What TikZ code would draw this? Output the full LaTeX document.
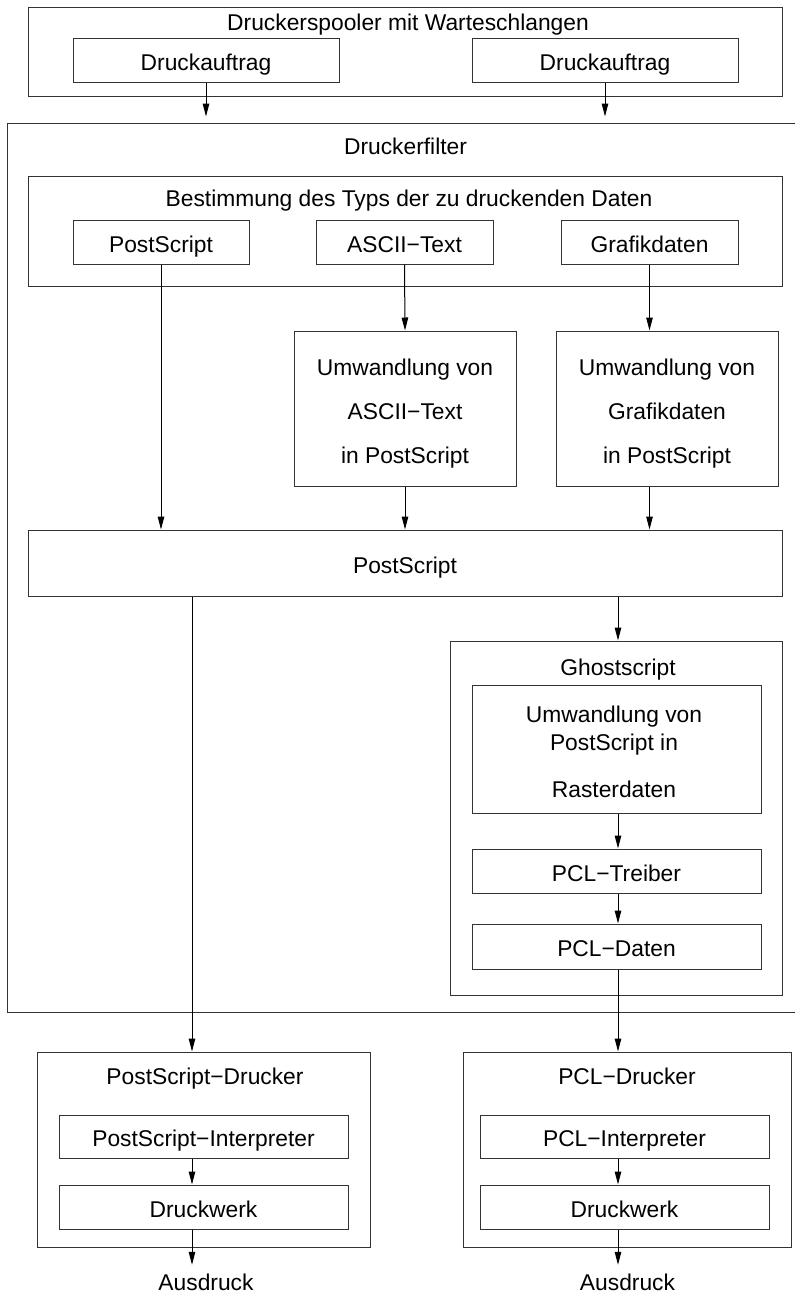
\documentclass[tikz,border=0pt]{standalone}
\usepackage{fontspec}
\setmainfont{Liberation Sans}
\usetikzlibrary{arrows.meta,calc}
\begin{document}
\begin{tikzpicture}[x=1pt,y=-1pt,
  every node/.style={font=\fontsize{22.8}{27}\selectfont, inner sep=0pt},
  wh/.style n args={2}{minimum width=#1pt, minimum height=#2pt},
  cont/.style={draw=black!80, line width=1pt},
  box/.style={draw=black!80, line width=1pt, text height=20pt, text depth=0pt},
  ttl/.style={anchor=base},
  mtext/.style={align=center},
  arr/.style={draw=black, line width=1pt, -{Triangle[length=13pt,width=6.5pt]}}]
\useasboundingbox (0,0) rectangle (795,1294);
\clip (0,0) rectangle (795,1294);
\coordinate (xl) at (192,0);
\coordinate (xr) at (618,0);
% Spooler
\node[cont, wh={754}{89}] (spool) at (405,51.5) {};
\node[ttl] (spooltitle) at (408,30) {Druckerspooler mit Warteschlangen};
\node[box, wh={266}{44}] (auf1) at (206,60) {Druckauftrag};
\node[box, wh={266}{44}] (auf2) at (605,60) {Druckauftrag};
% Filter
\node[cont, wh={808}{889.7}] (filter) at (411,567.85) {};
\node[ttl] (filtertitle) at (405.5,154) {Druckerfilter};
\node[cont, wh={754}{110}] (best) at (405,231) {};
\node[ttl] (besttitle) at (409,206) {Bestimmung des Typs der zu druckenden Daten};
\node[box, wh={176}{44}] (tps) at (161,242) {PostScript};
\node[box, wh={177}{44}] (tascii) at (404.5,242) {ASCII−Text};
\node[box, wh={177}{44}] (tgraf) at (649.5,242) {Grafikdaten};
\node[cont, wh={222}{155}] (uascii) at (405,408.5) {};
\node[mtext, font=\fontsize{22.8}{44}\selectfont] (uasciitext) at (405,413.1) {Umwandlung von\\ASCII−Text\\in PostScript};
\node[cont, wh={222}{155}] (ugraf) at (667,408.5) {};
\node[mtext, font=\fontsize{22.8}{44}\selectfont] (ugraftext) at (667,413.1) {Umwandlung von\\Grafikdaten\\in PostScript};
\node[box, wh={754}{66}] (psbig) at (405,563) {PostScript};
% Ghostscript
\node[cont, wh={332}{354}] (ghost) at (616,818) {};
\node[ttl] (ghosttitle) at (618,675) {Ghostscript};
\node[cont, wh={289}{128}] (uraster) at (616.5,749) {};
\node[mtext, font=\fontsize{22.8}{28}\selectfont] (urastertext) at (614,751.4) {Umwandlung von\\PostScript in\\[19pt]Rasterdaten};
\node[box, wh={289}{44}] (pcltr) at (616.5,871) {PCL−Treiber};
\node[box, wh={289}{45}] (pcldat) at (616.5,946.5) {PCL−Daten};
% Printers
\node[cont, wh={333}{195}] (psdr) at (203.5,1149.5) {};
\node[ttl] (psdrtitle) at (205,1084) {PostScript−Drucker};
\node[box, wh={289}{43}] (psint) at (203.5,1136.5) {PostScript−Interpreter};
\node[box, wh={289}{44}] (psdw) at (203.5,1207) {Druckwerk};
\node[ttl] (ausl) at (206,1290.5) {Ausdruck};
\node[cont, wh={328}{195}] (pcldr) at (627,1149.5) {};
\node[ttl] (pcldrtitle) at (627,1084) {PCL−Drucker};
\node[box, wh={289}{43}] (pclint) at (624.5,1136.5) {PCL−Interpreter};
\node[box, wh={289}{44}] (pcldw) at (624.5,1207) {Druckwerk};
\node[ttl] (ausr) at (627.5,1290.5) {Ausdruck};
% Arrows
\draw[arr, shorten >=6pt] (auf1.south) -- (auf1.south |- filter.north);
\draw[arr, shorten >=6pt] (auf2.south) -- (auf2.south |- filter.north);
\draw[arr] (tps.south) -- (tps.south |- psbig.north);
\draw[arr] (tascii.south) -- (uascii.north);
\draw[arr] (tgraf.south) -- (tgraf.south |- ugraf.north);
\draw[arr] (uascii.south) -- (uascii.south |- psbig.north);
\draw[arr] (ugraf.south -| tgraf.south) -- (tgraf.south |- psbig.north);
\draw[arr] (psbig.south -| xl) -- (xl |- psdr.north);
\draw[arr] (psbig.south -| xr) -- (xr |- ghost.north);
\draw[arr] (uraster.south -| xr) -- (xr |- pcltr.north);
\draw[arr] (pcltr.south -| xr) -- (xr |- pcldat.north);
\draw[arr] (pcldat.south -| xr) -- (xr |- pcldr.north);
\draw[arr] (psint.south -| xl) -- (xl |- psdw.north);
\draw[arr, shorten >=9pt] (psdw.south -| xl) -- (xl |- ausl.north);
\draw[arr] (pclint.south -| xr) -- (xr |- pcldw.north);
\draw[arr, shorten >=9pt] (pcldw.south -| xr) -- (xr |- ausr.north);
\end{tikzpicture}
\end{document}
